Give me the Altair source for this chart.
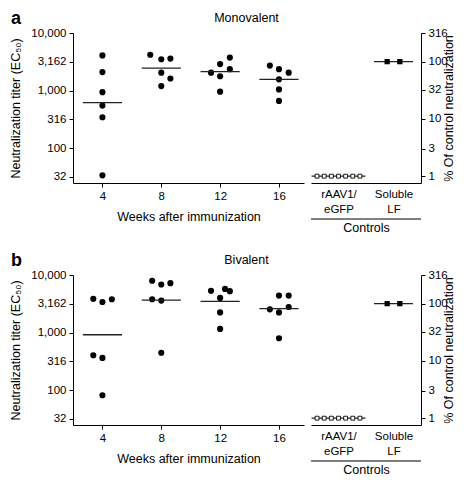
import altair as alt
import pandas as pd

# ---------------- data ----------------
weeks = [4, 8, 12, 16]
y_ticks = [32, 100, 316, 1000, 3162, 10000]
pct_ticks = [1, 3, 10, 32, 100, 316]

# Panel a: monovalent
mono_week = [4, 4, 4, 4, 4, 4, 8, 8, 8, 8, 8, 8, 12, 12, 12, 12, 12, 12, 16, 16, 16, 16, 16, 16]
mono_dx = [0, 0, 0, 0, 0, 0,
           -0.75, 0, 0.62, 0, 0.62, 0,
           -0.62, 0, 0.66, 0.66, 0, 0,
           -0.62, 0, 0.66, 0, 0, 0]
mono_titer = [4090, 2100, 940, 550, 346, 34,
              4200, 3500, 3600, 2050, 1625, 1200,
              2050, 2890, 3740, 2360, 1780, 960,
              2720, 2360, 2050, 1570, 1050, 664]
mono_mean = [620, 2450, 2130, 1570]

# Panel b: bivalent
bi_week = mono_week
bi_dx = [-0.62, 0, 0.64, -0.62, 0, 0,
         -0.62, 0, 0.62, -0.62, 0, 0,
         -0.62, 0.33, 0.66, 0, 0, 0,
         -0.62, 0, 0.66, 0, 0.66, 0]
bi_titer = [3860, 3400, 3800, 405, 365, 82,
            7960, 6840, 7210, 3800, 3600, 448,
            5310, 5730, 5250, 4010, 2240, 1160,
            2540, 4400, 4400, 2240, 2790, 800]
bi_mean = [920, 3670, 3500, 2610]

# Controls (% of control neutralization)
ctrl_labels = ["rAAV1/eGFP", "Soluble LF"]
ctrl_pos = [0.5, 1.5]
egfp_dx = [-0.39, -0.26, -0.13, 0.0, 0.13, 0.26, 0.39]
egfp_pct = [1, 1, 1, 1, 1, 1, 1]
lf_dx = [-0.115, 0.115]
lf_pct = [100, 100]
ctrl_mean = [1, 100]
ctrl_halfwidth = [0.49, 0.354]

# ---------------- layout constants ----------------
WL = 231
WR = 110
H = 150
FONT = "Liberation Sans"


def panel(letter, title, week, dx, titer, mean):
    df = pd.DataFrame({"week": week, "dx": dx, "titer": titer})
    mdf = pd.DataFrame({"week": weeks, "mean": mean})
    xs = alt.Scale(domain=[2, 17.7], nice=False, zero=False)
    ys = alt.Scale(type="log", domain=[25, 10000], nice=False)

    pts = alt.Chart(df).transform_calculate(
        xp="datum.week + datum.dx"
    ).mark_circle(size=38, color="black", opacity=1).encode(
        x=alt.X("xp:Q", scale=xs,
                axis=alt.Axis(values=weeks, title="Weeks after immunization",
                              titlePadding=9, labelPadding=3)),
        y=alt.Y("titer:Q", scale=ys,
                axis=alt.Axis(values=y_ticks, format=",.0f",
                              title="Neutralization titer (EC₅₀)",
                              titlePadding=8, labelPadding=3)),
    )
    means = alt.Chart(mdf).transform_calculate(
        x1="datum.week - 1.33", x2="datum.week + 1.33"
    ).mark_rule(color="#222222", strokeWidth=1.3).encode(
        x=alt.X("x1:Q", scale=xs), x2="x2:Q", y=alt.Y("mean:Q", scale=ys)
    )
    let = alt.Chart(pd.DataFrame({"t": [letter]})).mark_text(
        font=FONT, fontSize=18, fontWeight="bold", align="left",
        baseline="alphabetic", color="black"
    ).encode(text="t:N", x=alt.value(-62), y=alt.value(-9))
    ttl = alt.Chart(pd.DataFrame({"t": [title]})).mark_text(
        font=FONT, fontSize=12.5, align="center",
        baseline="alphabetic", color="black"
    ).encode(text="t:N", x=alt.value((WL + 6 + WR) / 2), y=alt.value(-11))
    left = alt.layer(pts, means, let, ttl).properties(width=WL, height=H)

    # controls
    ps = alt.Scale(type="log", domain=[0.76, 316], nice=False)
    cx = alt.Scale(domain=[0, 2], nice=False, zero=False)
    eg = pd.DataFrame({"g": [ctrl_pos[0]] * len(egfp_dx), "dx": egfp_dx, "v": egfp_pct})
    lf = pd.DataFrame({"g": [ctrl_pos[1]] * len(lf_dx), "dx": lf_dx, "v": lf_pct})
    cm = pd.DataFrame({"g": ctrl_pos, "m": ctrl_mean, "hw": ctrl_halfwidth})
    crules = alt.Chart(cm).transform_calculate(
        x1="datum.g - datum.hw", x2="datum.g + datum.hw"
    ).mark_rule(color="#222222", strokeWidth=1.3).encode(
        x=alt.X("x1:Q", scale=cx,
                axis=alt.Axis(values=ctrl_pos, ticks=False, labelPadding=5,
                              labelExpr="datum.value < 1 ? ['rAAV1/', 'eGFP'] : ['Soluble', 'LF']",
                              labelLineHeight=15, title="Controls", titlePadding=7)),
        x2="x2:Q",
        y=alt.Y("m:Q", scale=ps,
                axis=alt.Axis(orient="right", values=pct_ticks, format="d",
                              title="% Of control neutralization", titleAngle=270,
                              titlePadding=8, labelPadding=3)),
    )
    egp = alt.Chart(eg).transform_calculate(xp="datum.g + datum.dx").mark_point(
        shape="square", size=15, filled=True, fill="white", stroke="black",
        strokeWidth=0.9, opacity=1
    ).encode(x=alt.X("xp:Q", scale=cx), y=alt.Y("v:Q", scale=ps))
    lfp = alt.Chart(lf).transform_calculate(xp="datum.g + datum.dx").mark_square(
        size=28, color="black", opacity=1
    ).encode(x=alt.X("xp:Q", scale=cx), y=alt.Y("v:Q", scale=ps))
    underline = alt.Chart(pd.DataFrame({"a": [0]})).mark_rule(
        color="black", strokeWidth=1
    ).encode(x=alt.value(0), x2=alt.value(WR), y=alt.value(H + 36))
    right = alt.layer(crules, egp, lfp, underline).properties(width=WR, height=H)

    return alt.hconcat(left, right, spacing=6)


chart = alt.vconcat(
    panel("a", "Monovalent", mono_week, mono_dx, mono_titer, mono_mean),
    panel("b", "Bivalent", bi_week, bi_dx, bi_titer, bi_mean),
    spacing=18,
).configure_view(stroke=None).configure_axis(
    grid=False, domainColor="black", tickColor="black", labelColor="black",
    titleColor="black", labelFont=FONT, titleFont=FONT, labelFontSize=11.5,
    titleFontSize=12.5, titleFontWeight="normal", tickSize=4, domainWidth=1,
    tickWidth=1
).properties(padding={"left": 1, "top": 2, "right": 0, "bottom": 0})

chart.save("out.html", embed_options={"renderer": "svg", "actions": False})
